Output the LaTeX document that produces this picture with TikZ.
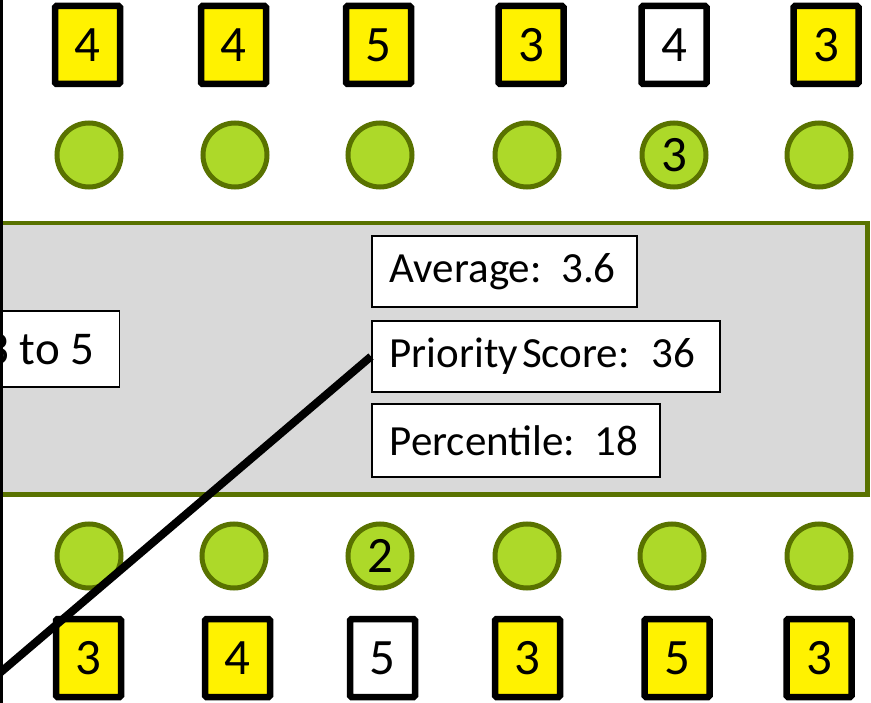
\documentclass[tikz,border=0pt]{standalone}
\usepackage{fontspec}
\setmainfont{Carlito}
\definecolor{olive}{RGB}{89,114,0}
\definecolor{lime}{RGB}{173,217,41}
\definecolor{panel}{RGB}{217,217,217}
\begin{document}
\begin{tikzpicture}[x=1pt,y=-1pt,
  sqbox/.style={draw=black,line width=6.5pt,rounded corners=1.5pt,fill=yellow,minimum width=65pt,minimum height=78pt,inner sep=0pt,font=\fontsize{51}{51}\selectfont},
  sqwhite/.style={sqbox,fill=white},
  dot/.style={circle,draw=olive,fill=lime,line width=5pt,minimum size=64pt,inner sep=0pt,font=\fontsize{51}{51}\selectfont},
  statbox/.style={draw=black,line width=1.5pt,fill=white,anchor=west,inner xsep=18pt,inner ysep=0pt,font=\fontsize{43}{43}\selectfont},
  conn/.style={line width=8pt,black}]
\useasboundingbox (0,0) rectangle (871,703);
\clip (0,0) rectangle (871,703);
% panel
\node[draw=olive,fill=panel,line width=4.5pt,minimum width=885pt,minimum height=271pt,inner sep=0pt,anchor=north west] (panel) at (-20,221) {};
% range box
\node[draw=black,line width=1.5pt,fill=white,anchor=east,minimum height=76pt,inner xsep=25pt,inner ysep=0pt,font=\fontsize{47}{47}\selectfont] (range) at (120,349) {3 to 5};
% stats
\node[statbox,minimum height=71pt] (avg) at (371,271.5) {\makebox[229pt][l]{Average:\ \ 3.6}};
\node[statbox,minimum height=71pt] (prio) at (371,356.5) {\makebox[312pt][l]{Priority\hspace{4pt}Score:\hspace{22pt}36}};
\node[statbox,minimum height=73pt] (pct) at (371,440.5) {\makebox[252pt][l]{Percentile:\ \ 18}};
% top squares
\node[sqbox] (t1) at (87.5,45) {4};
\node[sqbox] (t2) at (233.5,45) {4};
\node[sqbox] (t3) at (378.5,45) {5};
\node[sqbox] (t4) at (531,45) {3};
\node[sqwhite] (t5) at (674,45) {4};
\node[sqbox] (t6) at (826,45) {3};
% top circles
\node[dot] (c1) at (89,155) {};
\node[dot] (c2) at (235,155) {};
\node[dot] (c3) at (380,155) {};
\node[dot] (c4) at (527,155) {};
\node[dot] (c5) at (674,155) {3};
\node[dot] (c6) at (819,155) {};
% bottom circles
\node[dot] (d1) at (89,556) {};
\node[dot] (d2) at (234,556) {};
\node[dot] (d3) at (380,556) {2};
\node[dot] (d4) at (527,556) {};
\node[dot] (d5) at (672,556) {};
\node[dot] (d6) at (819,556) {};
% bottom squares
\node[sqbox] (b1) at (88.5,658) {3};
\node[sqbox] (b2) at (237.5,658) {4};
\node[sqwhite] (b3) at (382.5,658) {5};
\node[sqbox] (b4) at (527.5,658) {3};
\node[sqbox] (b5) at (677,658) {5};
\node[sqbox] (b6) at (819,658) {3};
% left rule
\coordinate (lt) at (1.5,-10);
\coordinate (lb) at (1.5,713);
\draw[line width=3pt,black] (lt) -- (lb);
% diagonal connector
\coordinate (free) at (-12,683);
\draw[conn] (free) -- (prio.west);
\end{tikzpicture}
\end{document}
